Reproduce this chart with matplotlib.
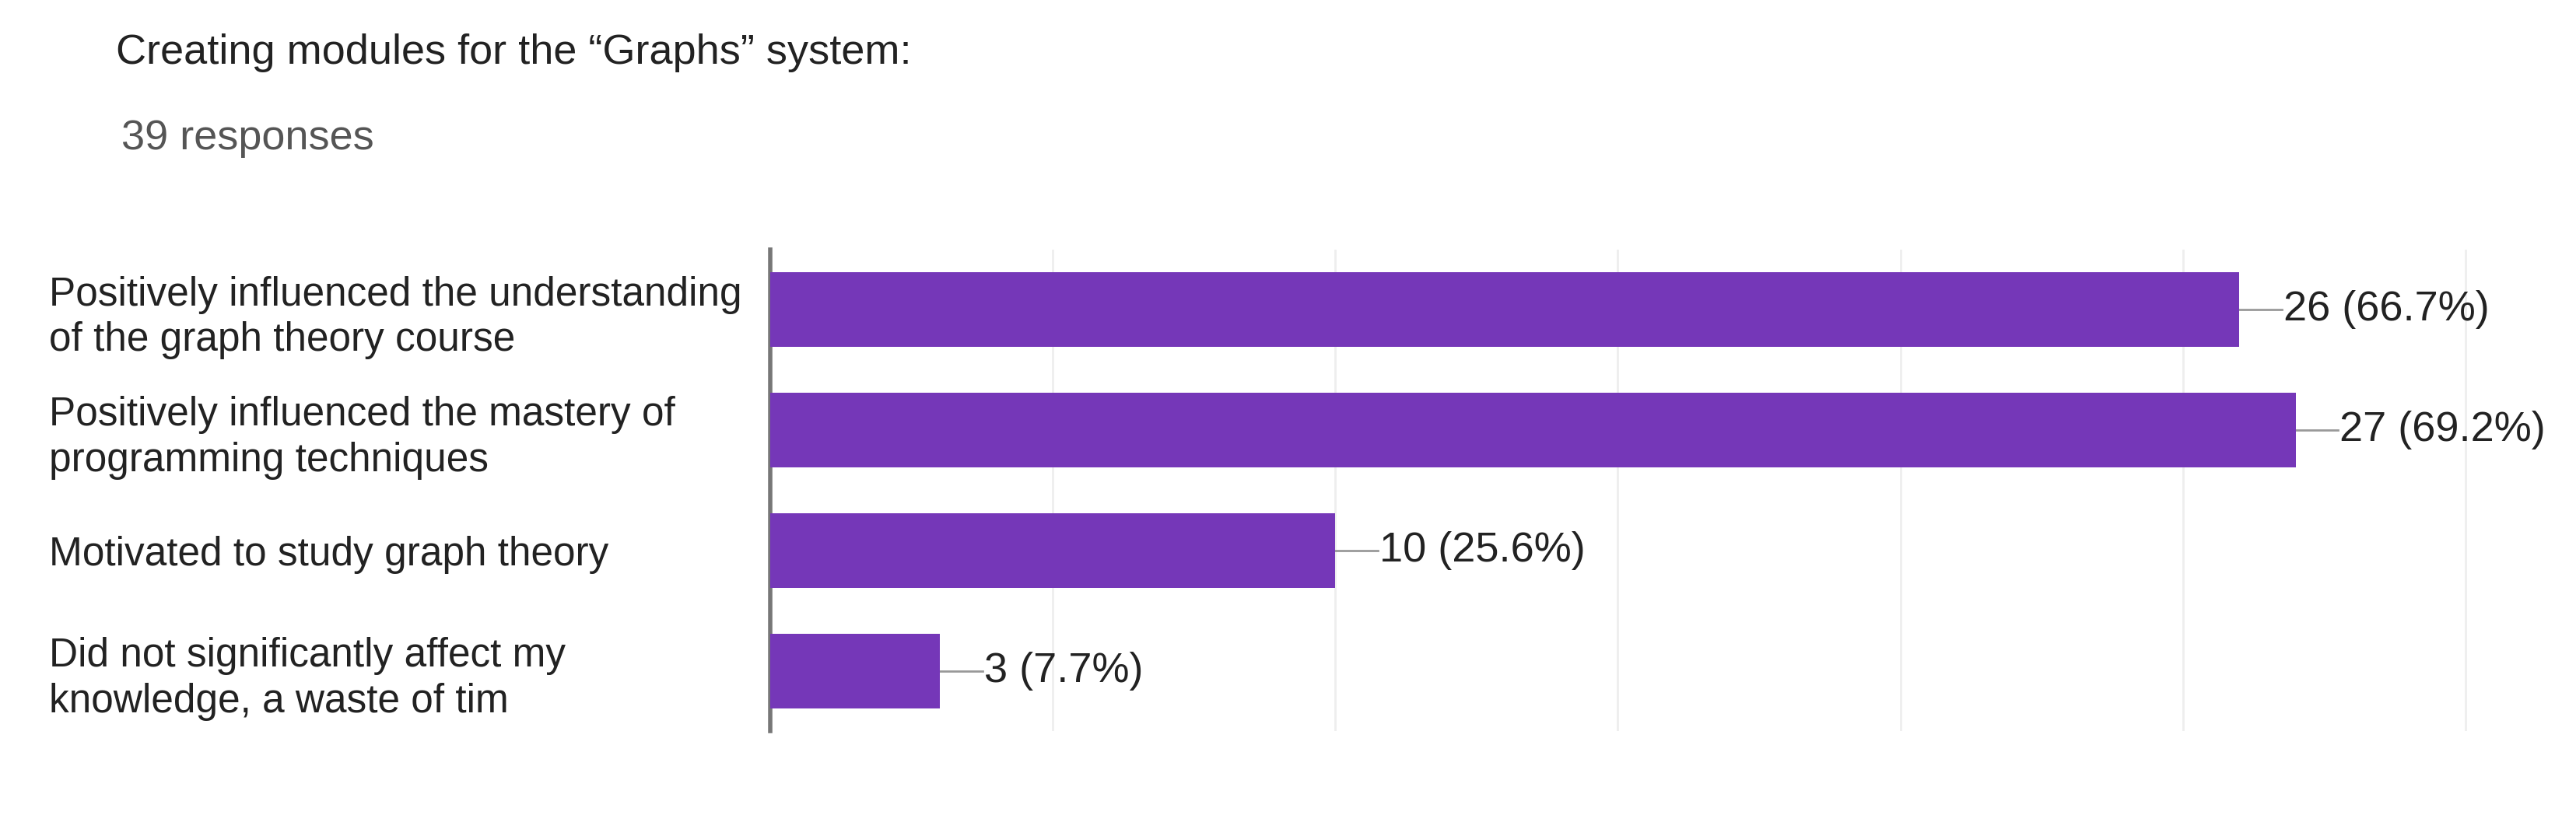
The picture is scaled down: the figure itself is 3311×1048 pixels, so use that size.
import matplotlib
matplotlib.use("Agg")
import matplotlib.pyplot as plt

plt.rcParams['font.family'] = ['Liberation Sans', 'DejaVu Sans']

categories = ["Positively influenced the understanding\nof the graph theory course",
              "Positively influenced the mastery of\nprogramming techniques",
              "Motivated to study graph theory",
              "Did not significantly affect my\nknowledge, a waste of tim"]
counts = [26, 27, 10, 3]
pcts = [66.7, 69.2, 25.6, 7.7]
BAR = '#7537b8'

fig = plt.figure(figsize=(16.56, 5.24), dpi=200)
ax = fig.add_axes([0.299, 0.103, 0.661, 0.591])
y = list(range(len(categories)))
ax.barh(y, counts, height=0.62, color=BAR, zorder=3)
ax.set_ylim(3.5, -0.5)
ax.set_xlim(0, 30.15)
for x in range(5, 31, 5):
    ax.axvline(x, color='#eeeeee', lw=1, zorder=1)
for yi, c, p in zip(y, counts, pcts):
    ax.plot([c, c + 0.75], [yi, yi], color='#999999', lw=1, zorder=2)
    ax.text(c + 0.78, yi, f"{c} ({p}%)", va='center', ha='left', fontsize=19.5, color='#222222')
ax.set_yticks(y)
ax.set_yticklabels(categories, fontsize=18.5, ha='left', color='#222222', linespacing=1.25)
ax.tick_params(axis='y', length=0, pad=334)
ax.set_xticks([])
for s in ['top', 'right', 'bottom']:
    ax.spines[s].set_visible(False)
ax.spines['left'].set_color('#777777')
ax.spines['left'].set_linewidth(2)

fig.text(0.045, 0.935, "Creating modules for the \u201cGraphs\u201d system:", fontsize=19.5, color='#222222', va='center')
fig.text(0.047, 0.83, "39 responses", fontsize=19.5, color='#555555', va='center')
fig.savefig("out.png", dpi=200, facecolor='white')
